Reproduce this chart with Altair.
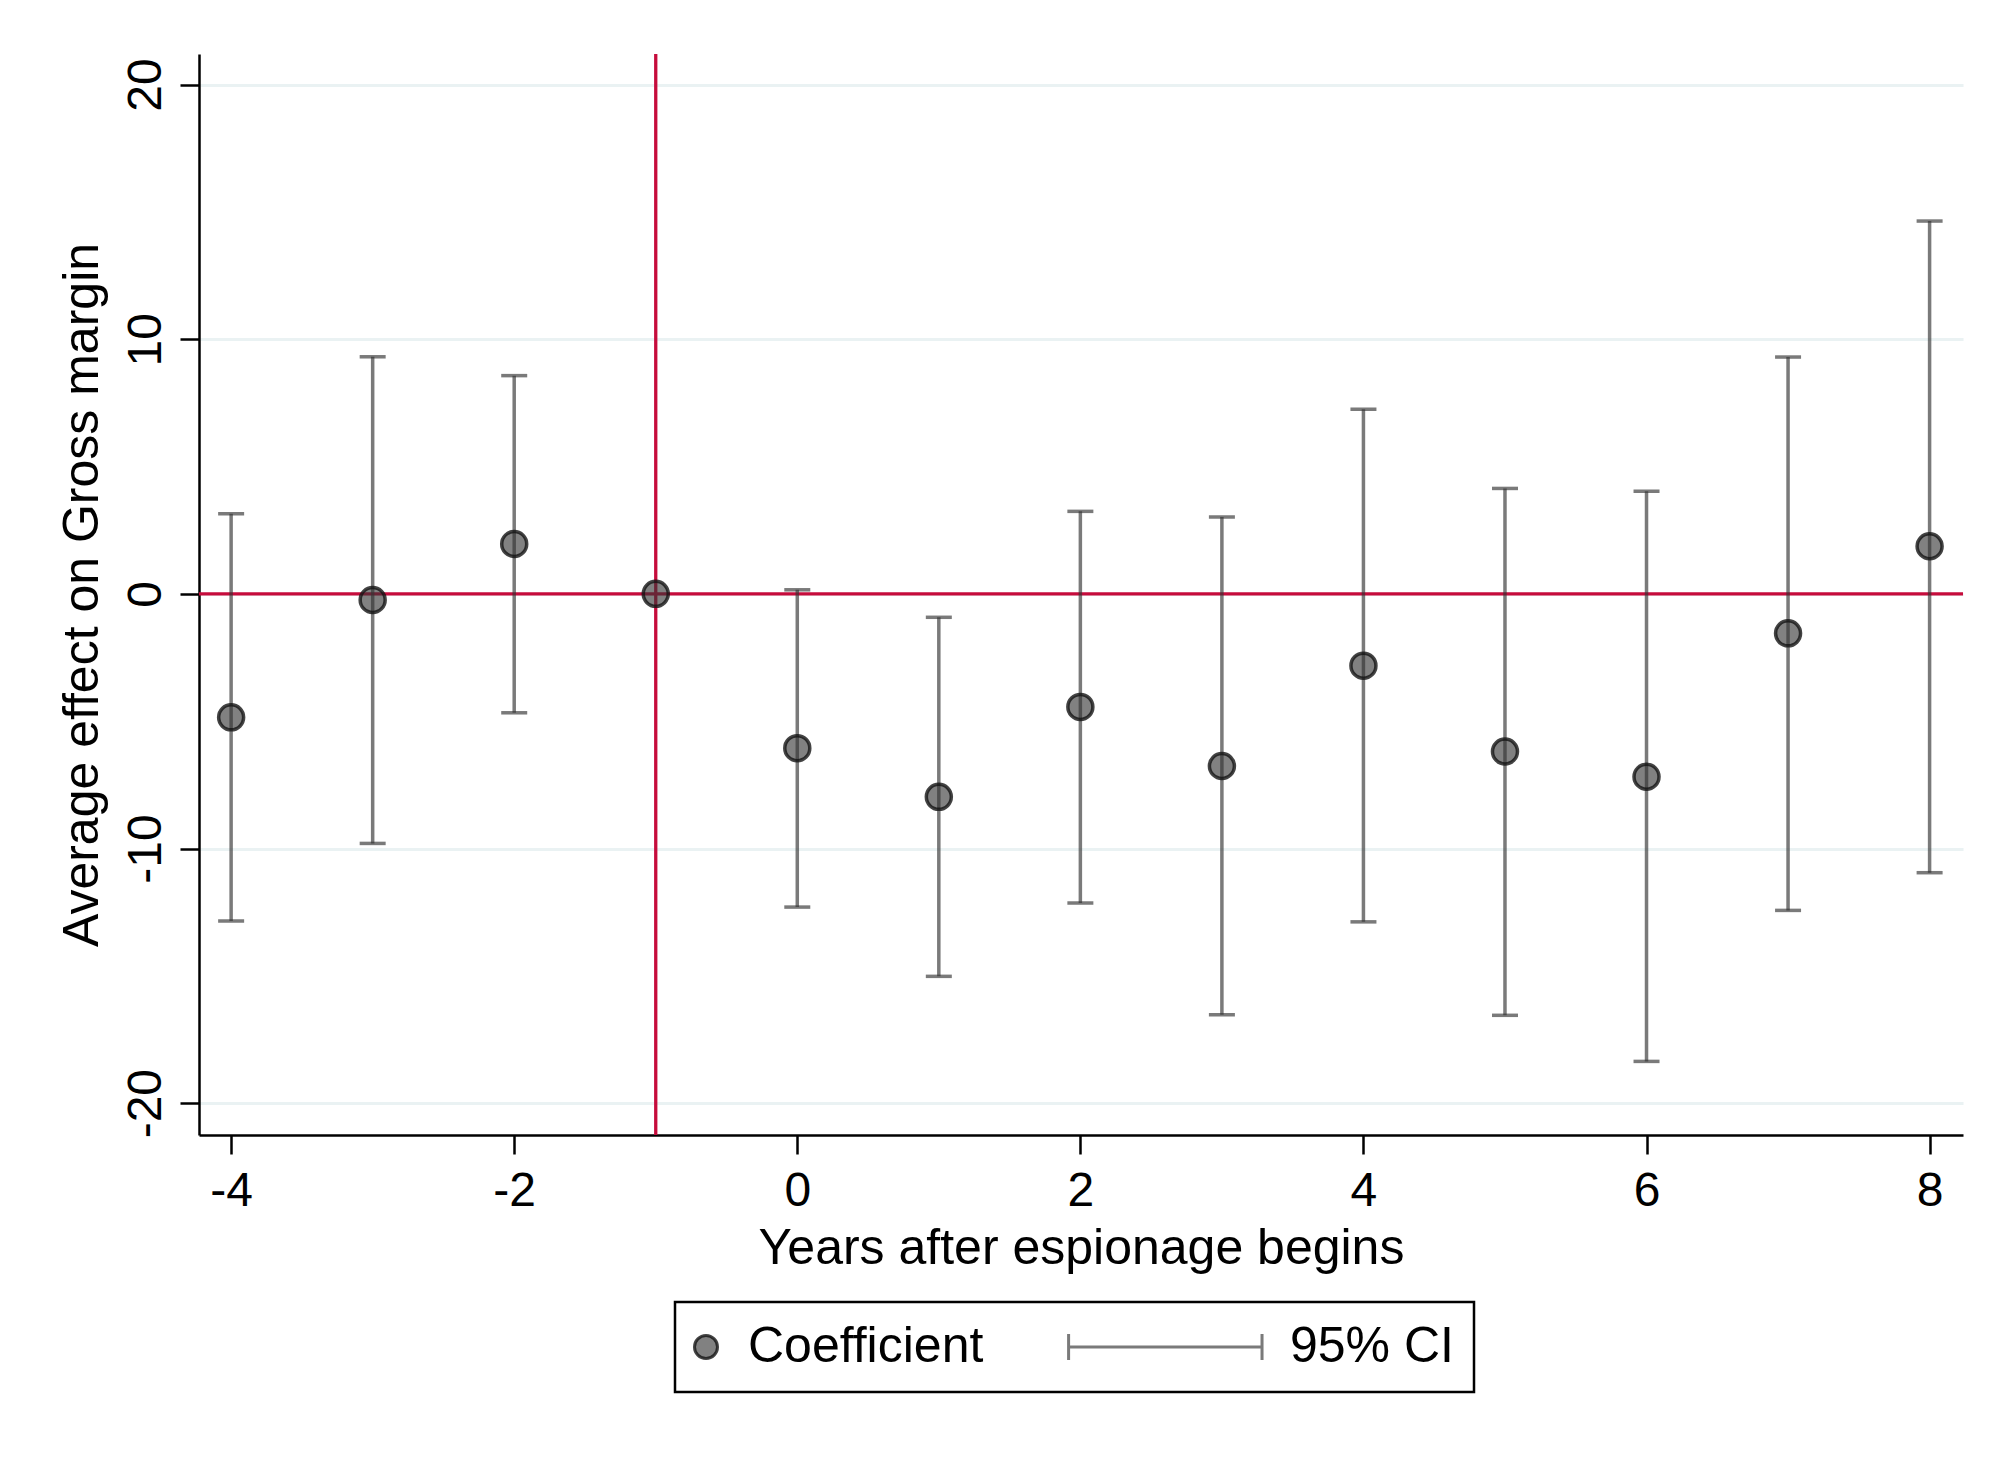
import altair as alt
import pandas as pd

# ---- data ----
years = [-4, -3, -2, -1, 0, 1, 2, 3, 4, 5, 6, 7, 8]
coef = [-4.85, -0.24, 1.96, 0.0, -6.06, -7.97, -4.44, -6.76, -2.82, -6.19, -7.18, -1.55, 1.87]
ci_low = [-12.85, -9.80, -4.67, None, -12.30, -15.02, -12.14, -16.53, -12.88, -16.55, -18.36, -12.43, -10.95]
ci_high = [3.15, 9.31, 8.57, None, 0.16, -0.92, 3.24, 3.02, 7.25, 4.14, 4.03, 9.30, 14.64]
x_ticks = [-4, -2, 0, 2, 4, 6, 8]
y_ticks = [-20, -10, 0, 10, 20]
ref_x = [-1]
ref_y = [0]
legend_labels = ["Coefficient", "95% CI"]

RED = "#C60C3C"
FONT = "Liberation Sans"
CI_PATH = "M-15.6,0H1.22M-15.6,-1.13V1.13M1.22,-1.13V1.13"
HYPHEN = "replace(datum.label, '\u2212', '-')"

df = pd.DataFrame({"year": years, "coef": coef, "lo": ci_low, "hi": ci_high})
df["kind"] = "Coefficient"
ci_df = df.dropna(subset=["lo", "hi"])

xscale = alt.Scale(domain=[-4.227, 8.236], nice=False, zero=False)
yscale = alt.Scale(domain=[-21.25, 21.2], nice=False, zero=False)

x_axis = alt.Axis(
    values=x_ticks, title="Years after espionage begins", grid=False, labelExpr=HYPHEN,
    domainColor="black", domainWidth=2.5, tickColor="black", tickWidth=2.5, tickSize=19,
    labelFont=FONT, labelFontSize=48, labelColor="black", labelPadding=13,
    titleFont=FONT, titleFontSize=50, titleFontWeight="normal", titleColor="black", titlePadding=8,
)
y_axis = alt.Axis(
    values=y_ticks, title="Average effect on Gross margin", grid=True, labelExpr=HYPHEN,
    gridColor="#EAF2F3", gridWidth=3,
    domainColor="black", domainWidth=2.5, tickColor="black", tickWidth=2.5, tickSize=19,
    labelFont=FONT, labelFontSize=48, labelColor="black", labelPadding=20,
    labelAngle=-90, labelAlign="center", labelBaseline="alphabetic",
    titleFont=FONT, titleFontSize=50, titleFontWeight="normal", titleColor="black", titlePadding=15,
)

legend = alt.Legend(
    title=None, orient="none", legendX=476, legendY=1248,
    direction="horizontal", columns=2, columnPadding=78,
    labelOffset=17, symbolOffset=-14,
    labelFont=FONT, labelFontSize=50, labelColor="black",
    labelLimit=0, strokeColor="black", padding=20,
    symbolSize=529, symbolStrokeWidth=3,
)

vline = alt.Chart(pd.DataFrame({"rx": ref_x})).mark_rule(color=RED, strokeWidth=3.3).encode(
    x=alt.X("rx:Q", scale=xscale, axis=x_axis)
)
hline = alt.Chart(pd.DataFrame({"ry": ref_y})).mark_rule(color=RED, strokeWidth=3.3).encode(
    y=alt.Y("ry:Q", scale=yscale, axis=y_axis)
)

ci = alt.Chart(ci_df).mark_rule(color="#333333", opacity=0.65, strokeWidth=3.5).encode(
    x=alt.X("year:Q", scale=xscale, axis=x_axis),
    y=alt.Y("lo:Q", scale=yscale, axis=y_axis),
    y2="hi:Q",
)
cap_lo = alt.Chart(ci_df).mark_tick(orient="horizontal", size=26, thickness=3.5,
                                    color="#333333", opacity=0.65).encode(
    x=alt.X("year:Q", scale=xscale, axis=x_axis),
    y=alt.Y("lo:Q", scale=yscale, axis=y_axis),
)
cap_hi = alt.Chart(ci_df).mark_tick(orient="horizontal", size=26, thickness=3.5,
                                    color="#333333", opacity=0.65).encode(
    x=alt.X("year:Q", scale=xscale, axis=x_axis),
    y=alt.Y("hi:Q", scale=yscale, axis=y_axis),
)

points = alt.Chart(df).mark_point(
    filled=True, size=625, strokeWidth=3.5, opacity=1,
).encode(
    x=alt.X("year:Q", scale=xscale, axis=x_axis),
    y=alt.Y("coef:Q", scale=yscale, axis=y_axis),
    shape=alt.Shape("kind:N", scale=alt.Scale(domain=legend_labels, range=["circle", CI_PATH]),
                    legend=legend),
    fill=alt.Fill("kind:N", scale=alt.Scale(domain=legend_labels,
                                            range=["rgba(51,51,51,0.62)", "rgba(51,51,51,0.62)"]),
                  legend=legend),
    stroke=alt.Stroke("kind:N", scale=alt.Scale(domain=legend_labels,
                                                range=["rgba(20,20,20,0.8)", "rgba(51,51,51,0.65)"]),
                      legend=legend),
)

chart = alt.layer(vline, hline, ci, cap_lo, cap_hi, points).properties(
    width=1764, height=1081,
    padding={"left": 191, "top": 46, "right": 45, "bottom": 323},
    autosize=alt.AutoSizeParams(type="none"),
    background="white",
).configure_view(stroke="transparent").configure_legend(strokeWidth=2.5)

chart.save("out.html", embed_options={"renderer": "svg", "actions": False})
